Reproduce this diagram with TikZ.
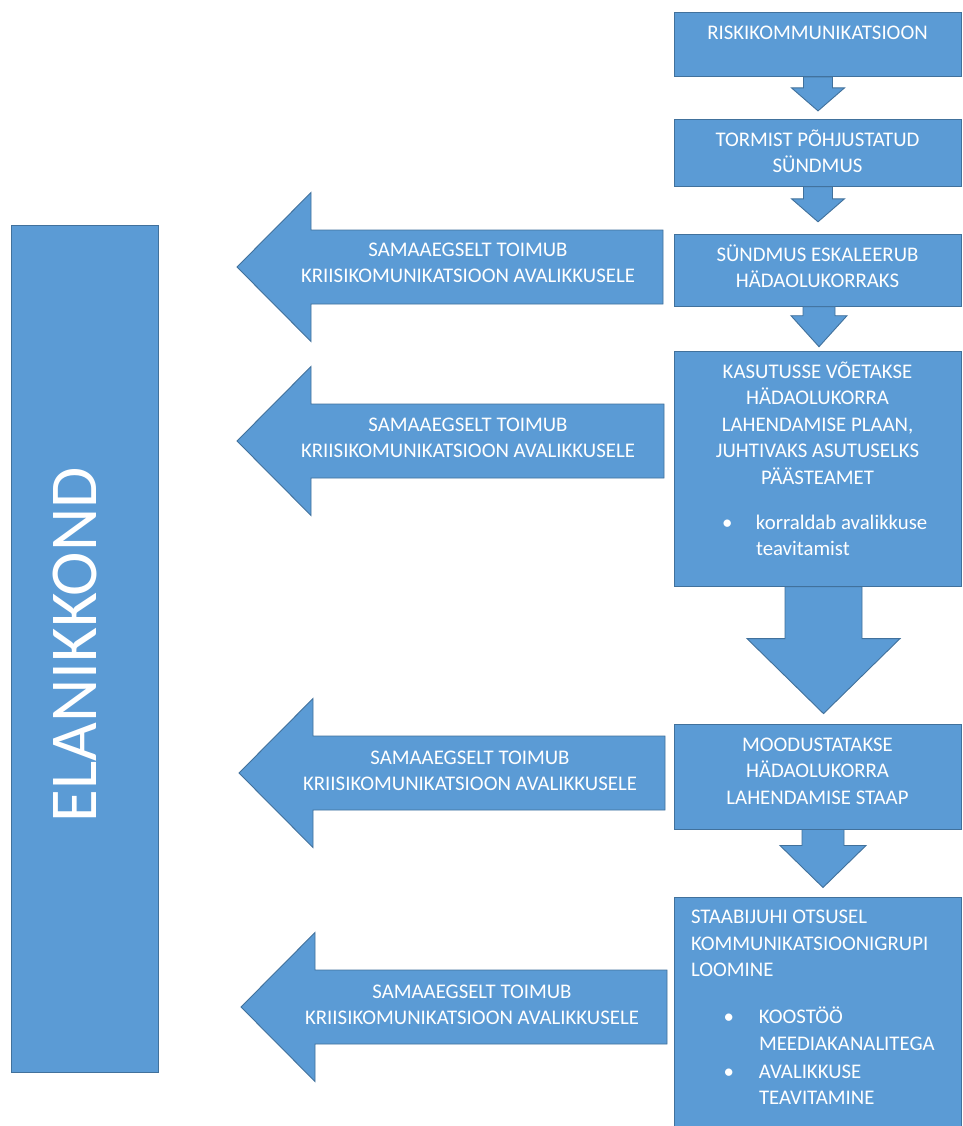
\documentclass[tikz,border=0pt]{standalone}
\usepackage{fontspec}
\setmainfont{Carlito}
\usetikzlibrary{positioning, calc}

\definecolor{stepblue}{HTML}{5B9BD5}
\definecolor{edgeblue}{HTML}{41719C}

\newcommand{\flowfont}{\fontsize{20.8pt}{26.5pt}\selectfont}
\newcommand{\popfont}{\fontsize{67pt}{70pt}\selectfont}
\newcommand{\dotitem}[1]{\leavevmode\llap{•\hspace{#1}}}
\hyphenpenalty=10000

% block arrow under a box: node, x offset, half shaft, half head, shaft length, head length
\newcommand{\downblock}[6]{%
  \draw[blockarrow] ([xshift=#2pt-#3pt]#1.south) -- ++(0,#5) -- ++(#3-#4,0)
    -- ++(#4,#6) -- ++(#4,-#6) -- ++(#3-#4,0) -- ++(0,-#5) -- cycle;}
% block arrow pointing left: tip x, middle y, tail x
\newcommand{\leftblock}[3]{%
  \draw[blockarrow] (#1,#2) -- (#1+74,#2-74.5) -- (#1+74,#2-37) -- (#3,#2-37)
    -- (#3,#2+37) -- (#1+74,#2+37) -- (#1+74,#2+74.5) -- cycle;}

\begin{document}
\begin{tikzpicture}[x=1pt, y=-1pt,
  stepbox/.style={draw=edgeblue, line width=0.9pt, fill=stepblue, text=white, font=\flowfont,
    text width=267pt, inner xsep=10pt, inner ysep=8pt, text height=19pt, align=flush center},
  listbox/.style={stepbox, text width=253pt, inner xsep=17pt, align=flush left},
  blockarrow/.style={draw=edgeblue, line width=0.9pt, fill=stepblue},
  msg/.style={text=white, font=\flowfont, align=center, inner sep=0pt},
  popbox/.style={draw=edgeblue, line width=0.9pt, fill=stepblue, minimum width=147pt, minimum height=847pt},
  poplabel/.style={text=white, font=\popfont, rotate=90, inner sep=0pt}
]
\fill[white, use as bounding box] (0,0) rectangle (962,1126);

% population
\node[popbox]   (pop)     at (84.5,648.5) {};
\node[poplabel] (poptext) at (74.5,645) {ELANIKKOND};

% the flow on the right
\node[stepbox, text depth=29pt, anchor=north] (risk) at (817.5,12) {RISKIKOMMUNIKATSIOON};
\node[stepbox, text depth=32pt, below=42pt of risk]  (storm) {TORMIST PÕHJUSTATUD\\SÜNDMUS};
\node[stepbox, text depth=37pt, below=47pt of storm] (escal) {SÜNDMUS ESKALEERUB\\HÄDAOLUKORRAKS};
\node[stepbox, text depth=200pt, below=44pt of escal] (plan)
  {KASUTUSSE VÕETAKSE\\HÄDAOLUKORRA\\LAHENDAMISE PLAAN,\\JUHTIVAKS ASUTUSELKS\\PÄÄSTEAMET\par
   \vspace{18.5pt}{\raggedright\leftskip=72pt
   \dotitem{23.5pt}korraldab avalikkuse\\teavitamist\par}};
\node[stepbox, text depth=70pt, below=137pt of plan] (staff) {MOODUSTATAKSE\\HÄDAOLUKORRA\\LAHENDAMISE STAAP};
\node[listbox, text depth=215pt, below=67pt of staff] (group)
  {STAABIJUHI OTSUSEL\\KOMMUNIKATSIOONIGRUPI\\LOOMINE\par
   \vspace{20.5pt}{\leftskip=68pt
   \dotitem{25pt}KOOSTÖÖ\\MEEDIAKANALITEGA\par
   \vspace{1.5pt}\dotitem{25pt}AVALIKKUSE\\TEAVITAMINE\par}};

% arrows between the steps
\downblock{risk}{0.5}{14.5}{26.5}{11}{23}
\downblock{storm}{0.5}{14.5}{26.5}{12}{23}
\downblock{escal}{1.5}{16}{28}{9}{31}
\downblock{plan}{6}{38.5}{76.5}{52}{75}
\downblock{staff}{5.5}{21}{43}{16}{42}

% crisis communication towards the public
\leftblock{237}{267}{663}
\leftblock{237}{441}{664}
\leftblock{239}{773}{665}
\leftblock{241}{1007}{667}
\node[msg] (msgA) at (468,263)  {SAMAAEGSELT TOIMUB\\KRIISIKOMUNIKATSIOON AVALIKKUSELE};
\node[msg] (msgB) at (468,438)  {SAMAAEGSELT TOIMUB\\KRIISIKOMUNIKATSIOON AVALIKKUSELE};
\node[msg] (msgC) at (470,771)  {SAMAAEGSELT TOIMUB\\KRIISIKOMUNIKATSIOON AVALIKKUSELE};
\node[msg] (msgD) at (472,1005) {SAMAAEGSELT TOIMUB\\KRIISIKOMUNIKATSIOON AVALIKKUSELE};

\end{tikzpicture}
\end{document}
